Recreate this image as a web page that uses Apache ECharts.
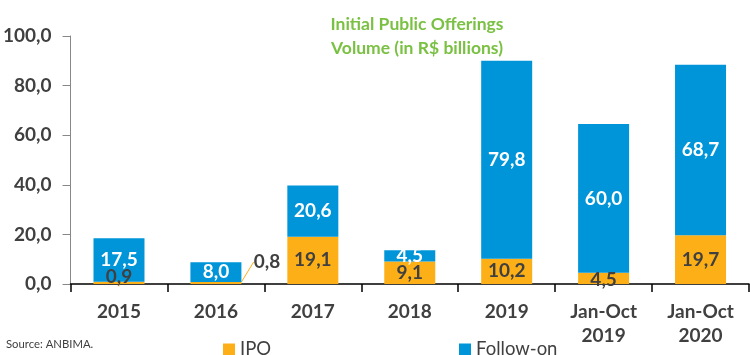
<!DOCTYPE html>
<html>
<head>
<meta charset="utf-8">
<script src="https://cdn.jsdelivr.net/npm/echarts@6/dist/echarts.min.js"></script>
<style>html,body{margin:0;padding:0;background:#fff}#c{width:750px;height:355px}</style>
</head>
<body>
<div id="c"></div>
<script>
const categories = ['2015', '2016', '2017', '2018', '2019', 'Jan-Oct\n2019', 'Jan-Oct\n2020'];
const ipo = [0.9, 0.8, 19.1, 9.1, 10.2, 4.5, 19.7];
const followOn = [17.5, 8.0, 20.6, 4.5, 79.8, 60.0, 68.7];
const yTicks = [0, 20, 40, 60, 80, 100];

const FONT = 'Lato, "Open Sans", sans-serif';
const fmt = v => Number(v).toFixed(1).replace('.', ',');
const chart = echarts.init(document.getElementById('c'), null, {renderer: 'canvas'});

chart.setOption({
  animation: false,
  title: {
    text: 'Initial Public Offerings\nVolume (in R$ billions)',
    left: 412, top: 7, textAlign: 'center',
    textStyle: {color: '#7AC143', fontFamily: FONT, fontWeight: 'bold', fontSize: 17.5, lineHeight: 24}
  },
  graphic: [{
    type: 'text', left: 6, top: 339,
    style: {text: 'Source: ANBIMA.', fill: '#404040', font: '11.3px ' + FONT}
  }],
  legend: [
    {data: ['IPO'], left: 218, top: 335, itemWidth: 12, itemHeight: 12, icon: 'rect', itemGap: 5,
     textStyle: {color: '#404040', fontFamily: FONT, fontSize: 18.5}},
    {data: ['Follow-on'], left: 454, top: 335, itemWidth: 12, itemHeight: 12, icon: 'rect',
     textStyle: {color: '#404040', fontFamily: FONT, fontSize: 18.5}}
  ],
  grid: {left: 70, right: 1, top: 36, bottom: 71, containLabel: false},
  xAxis: {
    type: 'category', data: categories,
    axisLine: {lineStyle: {color: '#000', width: 1.5}},
    axisTick: {show: true, length: 8, lineStyle: {color: '#000', width: 1.5}},
    axisLabel: {color: '#404040', fontFamily: FONT, fontWeight: 'bold', fontSize: 19, lineHeight: 24, margin: 16}
  },
  yAxis: {
    type: 'value', min: yTicks[0], max: yTicks[yTicks.length - 1], interval: 20,
    axisLine: {show: true, lineStyle: {color: '#888'}},
    axisTick: {show: true, length: 8, lineStyle: {color: '#888'}},
    splitLine: {show: false},
    axisLabel: {color: '#404040', fontFamily: FONT, fontWeight: 'bold', fontSize: 19, margin: 19, formatter: v => fmt(v)}
  },
  series: [
    {
      name: 'IPO', type: 'bar', stack: 'a', barWidth: 51, data: ipo,
      itemStyle: {color: '#FCAF17'},
      label: {show: true, position: 'inside', color: '#404040', fontFamily: FONT, fontWeight: 'bold', fontSize: 19,
              formatter: p => fmt(p.value)},
      labelLine: {show: true, lineStyle: {color: '#FCAF17', width: 1}},
      labelLayout: function (p) {
        if (p.dataIndex === 1) return {dx: 51, dy: -21};
        if (p.dataIndex === 0) return {dy: -6};
        if (p.dataIndex === 5) return {dy: 1};
        return {};
      }
    },
    {
      name: 'Follow-on', type: 'bar', stack: 'a', barWidth: 51, data: followOn,
      itemStyle: {color: '#0095D9'},
      label: {show: true, position: 'inside', color: '#fff', fontFamily: FONT, fontWeight: 'bold', fontSize: 19,
              formatter: p => fmt(p.value)}
    }
  ]
});
</script>
</body>
</html>
